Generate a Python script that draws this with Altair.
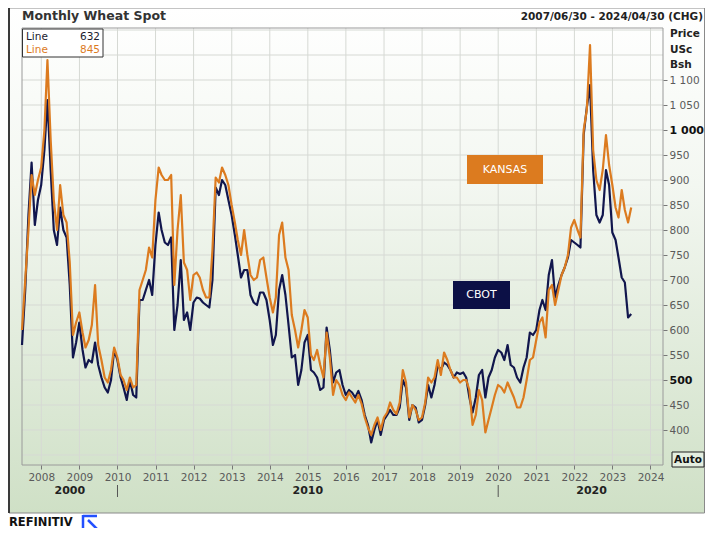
import altair as alt
import pandas as pd

# ---------------- data ----------------
cbot = [570, 680, 830, 935, 810, 860, 890, 960, 1060, 920, 800, 770, 845, 800, 785, 690, 545, 575, 615, 560,
        525, 540, 535, 575, 530, 505, 485, 475, 500, 560, 540, 505, 485, 460, 500, 470, 465, 660, 660, 680,
        700, 670, 770, 835, 800, 775, 770, 785, 600, 650, 740, 620, 635, 600, 655, 665, 663, 655, 650, 645,
        700, 885, 870, 900, 890, 860, 830, 790, 750, 705, 720, 720, 670, 655, 650, 675, 675, 660, 620, 570,
        590, 680, 710, 670, 610, 545, 550, 490, 520, 575, 590, 520, 515, 505, 480, 485, 605, 560, 495, 515,
        520, 490, 470, 480, 475, 465, 478, 460, 430, 410, 375, 400, 420, 390, 420, 430, 440, 430, 430, 445,
        500, 485, 420, 450, 445, 415, 420, 450, 490, 465, 490, 530, 520, 535, 530, 520, 505, 515, 512, 515,
        505, 465, 435, 465, 510, 520, 465, 505, 520, 545, 560, 555, 540, 570, 530, 525, 505, 495, 525, 545,
        595, 590, 600, 640, 660, 640, 710, 740, 665, 690, 710, 725, 745, 780, 775, 770, 765, 990, 1045, 1090,
        920, 830, 815, 830, 920, 890, 795, 780, 745, 705, 695, 625, 632]
kansas = [600, 700, 800, 910, 870, 900, 925, 1000, 1140, 980, 860, 800, 890, 830, 815, 735, 590, 615, 635, 595,
          565, 580, 610, 690, 570, 540, 505, 495, 520, 565, 545, 510, 500, 480, 505, 485, 490, 680, 700, 720,
          765, 745, 860, 925, 910, 900, 900, 910, 690, 800, 870, 735, 720, 660, 710, 715, 705, 680, 665, 665,
          760, 905, 895, 925, 910, 890, 850, 815, 780, 750, 800, 750, 710, 700, 705, 740, 745, 705, 665, 635,
          665, 790, 815, 745, 720, 630, 600, 565, 600, 640, 625, 550, 540, 560, 530, 505, 595, 545, 470, 500,
          490, 470, 460, 475, 465, 455, 470, 452, 425, 405, 390, 410, 425, 400, 425, 435, 455, 440, 432, 455,
          520, 495, 425, 450, 440, 420, 425, 455, 505, 495, 505, 540, 510, 555, 540, 520, 505, 505, 495, 500,
          500, 480, 410, 430, 480, 460, 395, 420, 445, 470, 490, 485, 475, 495, 480, 465, 445, 445, 465, 500,
          540, 545, 580, 615, 625, 585, 680, 690, 650, 680, 710, 725, 750, 805, 820, 800, 785, 1000, 1040, 1170,
          960, 900, 880, 920, 990, 930, 890, 845, 825, 880, 840, 815, 845]
series_names = ["CBOT", "KANSAS"]
first_month = "2007-06-01"
years = list(range(2008, 2025))
price_ticks = list(range(400, 1101, 50))
grid_prices = list(range(350, 1201, 50))
decade_labels = ["2000", "2010", "2020"]
decade_pos = ["2008-10-01", "2015-01-01", "2022-06-15"]
decade_breaks = ["2010-01-01", "2020-01-01"]
title_left = "Monthly Wheat Spot"
title_right = "2007/06/30 - 2024/04/30 (CHG)"
unit_lines = ["Price", "USc", "Bsh"]

NAVY = "#11164d"
ORANGE = "#dc7b1f"
W, H = 641, 437
FONT = "DejaVu Sans"

dates = (pd.date_range(first_month, periods=len(cbot), freq="MS") + pd.offsets.MonthEnd(0)).strftime("%Y-%m-%dT00:00:00")
df = pd.DataFrame({
    "date": list(dates) * 2,
    "price": cbot + kansas,
    "series": [series_names[0]] * len(cbot) + [series_names[1]] * len(kansas),
})

xscale = alt.Scale(domain=[alt.DateTime(year=2007, month=6, date=30), alt.DateTime(year=2024, month=4, date=30)])
yscale = alt.Scale(domain=[330, 1204], nice=False, zero=False)
one = pd.DataFrame({"k": [0]})

BOLD_TEST = "datum.value == 1000 || datum.value == 500"
yaxis = alt.Axis(
    orient="right", values=price_ticks, title=None, grid=False, domain=False, zindex=2,
    tickSize=4, tickColor="#777777", labelPadding=2, labelOverlap=False, labelFont=FONT,
    labelExpr="datum.value >= 1000 ? '1 ' + format(datum.value % 1000, '03d') : format(datum.value, 'd')",
    labelFontWeight={"condition": {"test": BOLD_TEST, "value": "bold"}, "value": "normal"},
    labelColor={"condition": {"test": BOLD_TEST, "value": "#111111"}, "value": "#5a5a5a"},
    labelFontSize={"condition": {"test": BOLD_TEST, "value": 11}, "value": 10.5},
)
xaxis = alt.Axis(
    values=[alt.DateTime(year=y, month=1, date=1) for y in years], format="%Y", title=None, zindex=2,
    grid=False, domain=False, tickSize=4, tickColor="#777777", labelColor="#5a5a5a", labelFont=FONT,
    labelFontSize=10.5, labelPadding=3, labelOverlap=False, labelFlush=False,
)

def X(field):
    return alt.X(field, scale=xscale, axis=xaxis)

def Y(field):
    return alt.Y(field, scale=yscale, axis=yaxis)

# ---------------- background panel ----------------
bg = alt.Chart(one).mark_rect(
    fill={"gradient": "linear", "x1": 0, "y1": 0, "x2": 0, "y2": 1,
          "stops": [{"offset": 0, "color": "#ffffff"}, {"offset": 0.35, "color": "#f3f7f1"},
                    {"offset": 1, "color": "#cfe0c6"}]},
    stroke="#8a8a8a", strokeWidth=1
).encode(x=alt.value(-13), x2=alt.value(682.5), y=alt.value(-20), y2=alt.value(485))

left_edge = alt.Chart(one).mark_rule(color="#3a3a3a", strokeWidth=2).encode(
    x=alt.value(-13), y=alt.value(-20), y2=alt.value(485))

vgrid = alt.Chart(pd.DataFrame({"date": [f"{y}-01-01T00:00:00" for y in years]})).mark_rule(
    color="#d6d9d4", strokeWidth=1).encode(
    x=X("date:T"), y=alt.value(0), y2=alt.value(H))

hgrid = alt.Chart(pd.DataFrame({"price": grid_prices})).mark_rule(
    color="#d6d9d4", strokeWidth=1).encode(
    y=Y("price:Q"), x=alt.value(0), x2=alt.value(W))

border = alt.Chart(one).mark_rect(fillOpacity=0, stroke="#9a9a9a", strokeWidth=1).encode(
    x=alt.value(0), x2=alt.value(W), y=alt.value(0), y2=alt.value(H))

# ---------------- data lines ----------------
lines = alt.Chart(df).mark_line(strokeWidth=2.2, strokeJoin="round").encode(
    x=X("date:T"),
    y=Y("price:Q"),
    color=alt.Color("series:N", scale=alt.Scale(domain=series_names, range=[NAVY, ORANGE]), legend=None),
)

# ---------------- annotations ----------------
def box(x1, x2, y1, y2, fill, stroke=None, sw=0):
    kw = dict(fill=fill)
    if stroke:
        kw.update(stroke=stroke, strokeWidth=sw)
    return alt.Chart(one).mark_rect(**kw).encode(
        x=alt.value(x1), x2=alt.value(x2), y=alt.value(y1), y2=alt.value(y2))

def txt(s, x, y, align="left", size=10.5, weight="normal", color="#333333"):
    return alt.Chart(one).mark_text(text=s, align=align, baseline="middle", fontSize=size,
                                    fontWeight=weight, color=color, font=FONT).encode(
        x=alt.value(x), y=alt.value(y))

kansas_box = box(445, 521, 127, 156, ORANGE)
kansas_txt = txt("KANSAS", 483, 141.5, "center", 11, "normal", "#ffffff")
cbot_box = box(431, 488, 253, 281, "#0c1046")
cbot_txt = txt("CBOT", 459.5, 267, "center", 11, "normal", "#ffffff")

legend_box = box(0.5, 81, 1, 29, "#ffffff", "#333333", 1)
leg = [
    txt("Line", 4, 9, "left", 10.5, "normal", "#1b1b2e"),
    txt(str(cbot[-1]), 78, 9, "right", 10.5, "normal", "#1b1b2e"),
    txt("Line", 4, 22, "left", 10.5, "normal", ORANGE),
    txt(str(kansas[-1]), 78, 22, "right", 10.5, "normal", ORANGE),
]

titles = [
    txt(title_left, 0, -12, "left", 12.5, "bold", "#333333"),
    txt(title_right, 681, -11, "right", 10.5, "bold", "#222222"),
]
units = [txt(s, 648, 6 + i * 15.5, "left", 10.5, "bold", "#222222") for i, s in enumerate(unit_lines)]

auto_box = box(650, 682, 424, 439, "#e4eee0", "#222222", 1)
auto_txt = txt("Auto", 666, 431.5, "center", 10.5, "bold", "#111111")

dec = alt.Chart(pd.DataFrame({"date": [p + "T00:00:00" for p in decade_pos], "t": decade_labels})).mark_text(
    baseline="middle", align="center", fontSize=11, fontWeight="bold", color="#222222", font=FONT).encode(
    x=X("date:T"), y=alt.value(463), text="t:N")
seps = alt.Chart(pd.DataFrame({"date": [p + "T00:00:00" for p in decade_breaks]})).mark_rule(
    color="#555555", strokeWidth=1).encode(
    x=X("date:T"), y=alt.value(457), y2=alt.value(469))

logo_txt = txt("REFINITIV", -13, 495, "left", 11.5, "bold", "#111111")
logo = [
    alt.Chart(one).mark_rule(color="#2350ff", strokeWidth=2.5).encode(
        x=alt.value(61), y=alt.value(487), y2=alt.value(501)),
    alt.Chart(one).mark_rule(color="#2350ff", strokeWidth=2.5).encode(
        x=alt.value(61), x2=alt.value(75), y=alt.value(488)),
    alt.Chart(one).mark_rule(color="#2350ff", strokeWidth=2.5).encode(
        x=alt.value(66), x2=alt.value(75), y=alt.value(492), y2=alt.value(501)),
]

chart = alt.layer(
    bg, left_edge, vgrid, hgrid, border, lines,
    kansas_box, kansas_txt, cbot_box, cbot_txt,
    legend_box, *leg, *titles, *units, auto_box, auto_txt, dec, seps, logo_txt, *logo,
).properties(
    width=W, height=H,
    autosize=alt.AutoSizeParams(type="none"),
    padding={"left": 14, "top": 20, "right": 42, "bottom": 63},
    background="#ffffff",
).configure_view(stroke=None).configure(font=FONT)

chart.save("out.html", embed_options={"renderer": "svg", "actions": False})
